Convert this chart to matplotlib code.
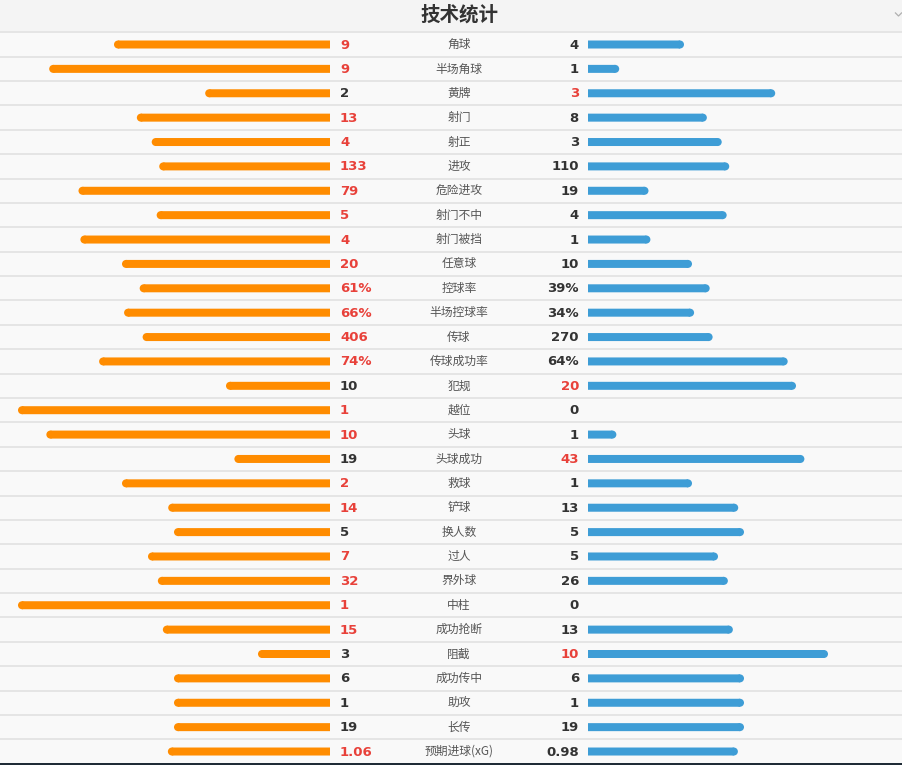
import matplotlib
matplotlib.use("Agg")
import matplotlib.pyplot as plt
from matplotlib.patches import Circle, Rectangle

title = "技术统计"
labels = ["角球", "半场角球", "黄牌", "射门", "射正", "进攻", "危险进攻", "射门不中",
          "射门被挡", "任意球", "控球率", "半场控球率", "传球", "传球成功率", "犯规",
          "越位", "头球", "头球成功", "救球", "铲球", "换人数", "过人", "界外球",
          "中柱", "成功抢断", "阻截", "成功传中", "助攻", "长传", "预期进球(xG)"]
home_values = ["9", "9", "2", "13", "4", "133", "79", "5", "4", "20", "61%", "66%",
               "406", "74%", "10", "1", "10", "19", "2", "14", "5", "7", "32", "1",
               "15", "3", "6", "1", "19", "1.06"]
away_values = ["4", "1", "3", "8", "3", "110", "19", "4", "1", "10", "39%", "34%",
               "270", "64%", "20", "0", "1", "43", "1", "13", "5", "5", "26", "0",
               "13", "10", "6", "1", "19", "0.98"]

ORANGE = "#ff8c00"
BLUE = "#3e9dd6"
RED = "#e8413a"
DARK = "#333333"
GRAY = "#555555"

W, H = 903, 765
fig = plt.figure(figsize=(W / 100, H / 100), dpi=100)
ax = fig.add_axes([0, 0, 1, 1])
ax.set_xlim(0, W)
ax.set_ylim(H, 0)
ax.axis("off")
fig.patch.set_facecolor("#f9f9f9")

# layout
y0, dy = 44.5, 24.38
left_end, right_start, full_len = 330.0, 588.0, 312.0
bar_h = 8.0
r = bar_h / 2
center_x = 459.0

# header
ax.add_patch(Rectangle((0, 0), W, y0 - dy / 2, facecolor="#f4f4f4", edgecolor="none", zorder=0))
ax.text(center_x, 15, title, ha="center", va="center", fontsize=14, fontweight="bold",
        color=DARK, family=["Noto Sans CJK SC", "DejaVu Sans"])
ax.plot([895, 898.5, 902], [12.5, 16, 12.5], color="#b0b0b0", lw=0.9, solid_capstyle="butt")

def num(s):
    return float(s.rstrip("%"))

n = len(labels)
for i in range(n):
    y = y0 + i * dy
    # separator
    ax.plot([0, W], [y - dy / 2, y - dy / 2], color="#e2e2e2", lw=1.2, zorder=1)
    hs, as_ = home_values[i], away_values[i]
    h, a = num(hs), num(as_)
    if hs.endswith("%"):
        hf, af = h / 100.0, a / 100.0
    else:
        tot = h + a
        hf, af = (h / tot, a / tot) if tot > 0 else (0.5, 0.5)
    hl, al = hf * full_len, af * full_len
    if hl > 0:
        ax.barh(y, hl - r, left=left_end - hl + r, height=bar_h, color=ORANGE,
                zorder=2, snap=False, linewidth=0)
        ax.add_patch(Circle((left_end - hl + r, y), r, facecolor=ORANGE, edgecolor="none",
                            zorder=2, snap=False))
    if al > 0:
        ax.barh(y, al - r, left=right_start, height=bar_h, color=BLUE,
                zorder=2, snap=False, linewidth=0)
        ax.add_patch(Circle((right_start + al - r, y), r, facecolor=BLUE, edgecolor="none",
                            zorder=2, snap=False))
    hc = RED if h > a else DARK
    ac = RED if a > h else DARK
    ax.text(340, y + 0.5, hs, ha="left", va="center", fontsize=9.5, fontweight="bold",
            color=hc, family="DejaVu Sans")
    ax.text(579, y + 0.5, as_, ha="right", va="center", fontsize=9.5, fontweight="bold",
            color=ac, family="DejaVu Sans")
    ax.text(center_x, y, labels[i], ha="center", va="center", fontsize=8.5, color=GRAY,
            family=["Noto Sans CJK SC", "DejaVu Sans"])

# bottom dark border
ax.add_patch(Rectangle((0, H - 2.5), W, 2.5, facecolor="#1f2b36", edgecolor="none", zorder=3))

fig.savefig("out.png", dpi=100, facecolor=fig.get_facecolor())
